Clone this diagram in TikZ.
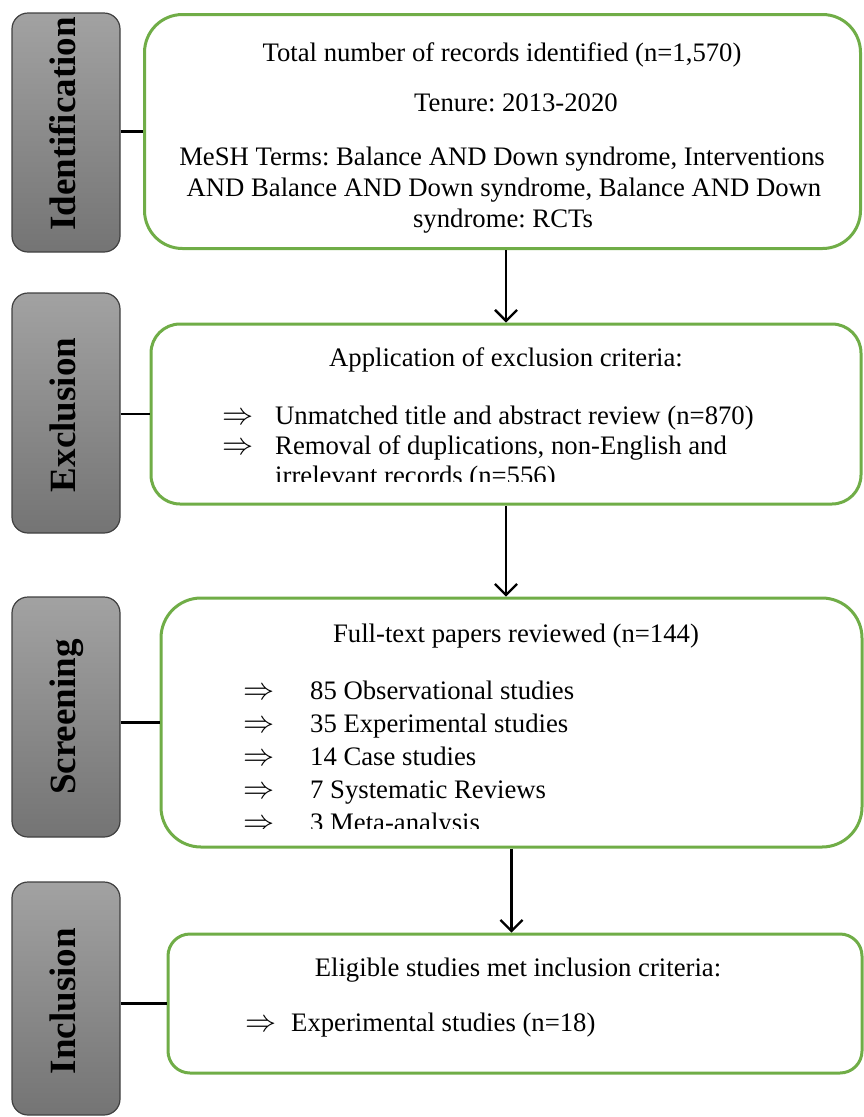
\documentclass[tikz,border=0pt]{standalone}
\usepackage{fontspec}
\setmainfont{Liberation Serif}
\usetikzlibrary{arrows.meta}
\definecolor{stagetop}{RGB}{162,162,162}
\definecolor{stagebottom}{RGB}{116,116,116}
\definecolor{boxgreen}{RGB}{112,173,71}
\newcommand{\bulletarr}{\scalebox{1.25}{$\Rightarrow$}}
\frenchspacing
\begin{document}
\begin{tikzpicture}[x=1pt,y=-1pt,
  stage/.style={draw=black!75,line width=1.2pt,rounded corners=16pt,top color=stagetop,bottom color=stagebottom,minimum width=108pt,inner sep=0pt},
  stagetext/.style={rotate=90,anchor=base,inner sep=0pt,font=\fontsize{37}{40}\selectfont\bfseries},
  greenbox/.style={draw=boxgreen,line width=3pt,fill=white,inner sep=0pt},
  txt/.style={inner sep=0pt,font=\fontsize{26.7}{31}\selectfont},
  link/.style={line width=2.5pt},
  flow/.style={-{Straight Barb[length=11pt,width=22pt]},line width=2.3pt}]
\useasboundingbox (0,0) rectangle (863,1117);

% stages on the left
\node[stage,minimum height=239pt] (idstage) at (66,132.5) {};
\node[stage,minimum height=240pt] (exstage) at (66,413) {};
\node[stage,minimum height=240pt] (scstage) at (66,717) {};
\node[stage,minimum height=233pt] (instage) at (66,998.5) {};
\node[stagetext] (idlabel) at (75,124) {Identification};
\node[stagetext] (exlabel) at (75,415) {Exclusion};
\node[stagetext] (sclabel) at (75,717) {Screening};
\node[stagetext] (inlabel) at (75,1001) {Inclusion};

% boxes
\node[greenbox,rounded corners=38pt,minimum width=716pt,minimum height=234pt] (idbox) at (502.5,131.5) {};
\node[greenbox,rounded corners=29pt,minimum width=710pt,minimum height=180pt] (exbox) at (506,414) {};
\node[greenbox,rounded corners=40pt,minimum width=701pt,minimum height=249pt] (scbox) at (511.5,722.5) {};
\node[greenbox,rounded corners=22pt,minimum width=694pt,minimum height=139pt] (inbox) at (515,1003.5) {};

\draw[link] (idbox.west -| idstage.east) -- (idbox.west);
\draw[link] (exbox.west -| exstage.east) -- (exbox.west);
\draw[link] (scbox.west -| scstage.east) -- (scbox.west);
\draw[link] (inbox.west -| instage.east) -- (inbox.west);

\draw[flow] (idbox.south -| exbox.north) -- (exbox.north);
\draw[flow] (exbox.south) -- (exbox.south |- scbox.north);
\draw[flow] (scbox.south) -- (scbox.south |- inbox.north);

% identification
\node[txt,anchor=base] (idtotal) at (502,61) {Total number of records identified (n=1,570)};
\node[txt,anchor=base] (idtenure) at (516,111) {Tenure: 2013-2020};
\node[txt,anchor=base] (idmesha) at (502,165) {MeSH Terms: Balance AND Down syndrome, Interventions};
\node[txt,anchor=base] (idmeshb) at (504,196) {AND Balance AND Down syndrome, Balance AND Down};
\node[txt,anchor=base] (idmeshc) at (503,227) {syndrome: RCTs};

% exclusion
\node[txt,anchor=base] (exhead) at (506,366) {Application of exclusion criteria:};
\begin{scope}
\clip (150,300) rectangle (863,481);
\node[txt,anchor=base west] (exarra) at (222,424) {\bulletarr};
\node[txt,anchor=base west] (exarrb) at (222,454) {\bulletarr};
\node[txt,anchor=base west] (exa) at (275,424) {Unmatched title and abstract review (n=870)};
\node[txt,anchor=base west] (exb) at (275,454) {Removal of duplications, non-English and};
\node[txt,anchor=base west] (exc) at (275,484) {irrelevant records (n=556)};
\end{scope}

% screening
\node[txt,anchor=base] (schead) at (516,642) {Full-text papers reviewed (n=144)};
\begin{scope}
\clip (160,600) rectangle (863,828);
\foreach \y/\t [count=\i] in {699/85 Observational studies,732/35 Experimental studies,765/14 Case studies,798/7 Systematic Reviews,831/3 Meta-analysis}{
  \node[txt,anchor=base west] (scarr\i) at (243,\y) {\bulletarr};
  \node[txt,anchor=base west] (scitem\i) at (310,\y) {\t};
}
\end{scope}

% inclusion
\node[txt,anchor=base] (inhead) at (518,976) {Eligible studies met inclusion criteria:};
\node[txt,anchor=base west] (inarr) at (245,1031) {\bulletarr};
\node[txt,anchor=base west] (initem) at (291,1031) {Experimental studies (n=18)};
\end{tikzpicture}
\end{document}
